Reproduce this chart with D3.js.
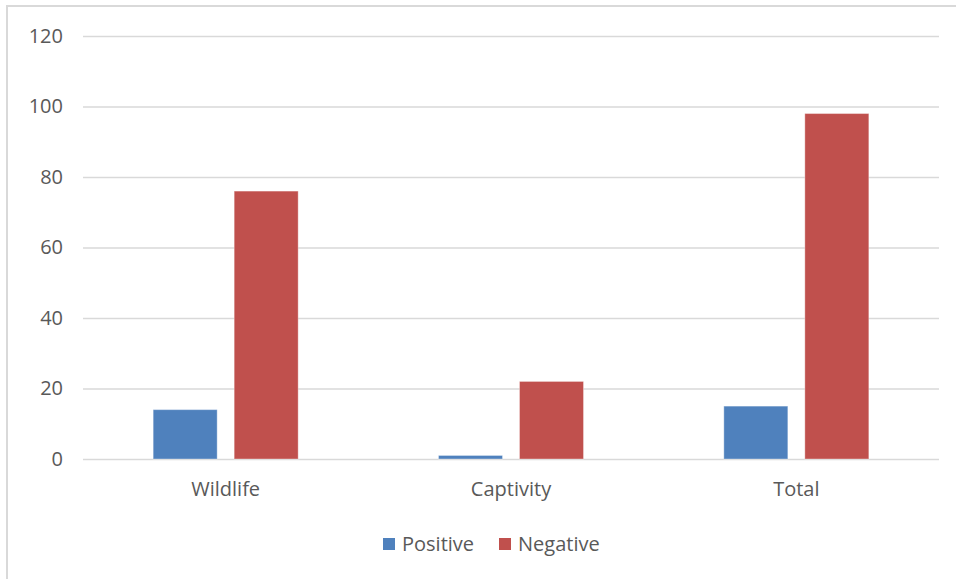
<!DOCTYPE html>
<html>
<head>
<meta charset="utf-8">
<script src="https://cdn.jsdelivr.net/npm/d3@7/dist/d3.min.js"></script>
<style>
  html, body { margin: 0; padding: 0; background: #fff; }
  svg { display: block; }
  text { font-family: "Open Sans", "Liberation Sans", sans-serif; fill: #595959; }
</style>
</head>
<body>
<svg id="chart" width="956" height="579"></svg>
<script>
// Counts by setting and result
const categories = ["Wildlife", "Captivity", "Total"];
const seriesNames = ["Positive", "Negative"];
const positive = [14, 1, 15];
const negative = [76, 22, 98];
const yTicks = [0, 20, 40, 60, 80, 100, 120];
const colors = ["#4f81bd", "#c0504d"];

const series = [positive, negative];

const svg = d3.select("#chart");
const W = 956, H = 579;
const plot = { left: 83, right: 939, top: 36, bottom: 459 };
const fontSize = "20px";

// Chart area frame
svg.append("rect")
  .attr("x", 7).attr("y", 6)
  .attr("width", W + 10).attr("height", H + 10)
  .attr("fill", "#fff")
  .attr("stroke", "#d9d9d9")
  .attr("stroke-width", 2);

const y = d3.scaleLinear().domain([0, 120]).range([plot.bottom, plot.top]);
const x0 = d3.scaleBand().domain(categories).range([plot.left, plot.right]).padding(0);
const groupHalf = 72.5;
const x1 = d3.scaleBand().domain(seriesNames).range([-groupHalf, groupHalf]).paddingInner(0.21).paddingOuter(0);

// Horizontal gridlines with value labels
const yAxis = d3.axisLeft(y)
  .tickValues(yTicks)
  .tickSize(-(plot.right - plot.left))
  .tickPadding(20)
  .tickFormat(d3.format("d"));

const gy = svg.append("g")
  .attr("transform", `translate(${plot.left},0)`)
  .call(yAxis);
gy.select(".domain").remove();
gy.selectAll(".tick line").attr("stroke", "#d9d9d9").attr("stroke-width", 1.6);
gy.selectAll(".tick text")
  .attr("font-size", fontSize)
  .attr("fill", "#595959")
  .attr("font-family", "'Open Sans', 'Liberation Sans', sans-serif");

// Bars
const groups = svg.append("g").selectAll("g")
  .data(categories)
  .join("g")
  .attr("transform", d => `translate(${x0(d) + x0.bandwidth() / 2},0)`);

groups.selectAll("rect")
  .data((d, i) => seriesNames.map((s, k) => ({ s, k, v: series[k][i] })))
  .join("rect")
  .attr("x", d => x1(d.s))
  .attr("width", x1.bandwidth())
  .attr("y", d => y(d.v))
  .attr("height", d => y(0) - y(d.v))
  .attr("fill", d => colors[d.k])
  .attr("stroke", "rgba(255,255,255,0.35)")
  .attr("stroke-width", 1);

// Category labels
const xAxis = d3.axisBottom(x0).tickSize(0).tickPadding(23);
const gx = svg.append("g")
  .attr("transform", `translate(0,${plot.bottom})`)
  .call(xAxis);
gx.select(".domain").remove();
gx.selectAll(".tick text")
  .attr("font-size", fontSize)
  .attr("fill", "#595959")
  .attr("font-family", "'Open Sans', 'Liberation Sans', sans-serif");

// Legend
const legendItems = [
  { name: seriesNames[0], color: colors[0], x: 383 },
  { name: seriesNames[1], color: colors[1], x: 499 }
];
const legend = svg.append("g");
legendItems.forEach(it => {
  legend.append("rect")
    .attr("x", it.x).attr("y", 538)
    .attr("width", 12).attr("height", 12)
    .attr("fill", it.color);
  legend.append("text")
    .attr("x", it.x + 19).attr("y", 544)
    .attr("dy", "0.35em")
    .attr("font-size", fontSize)
    .text(it.name);
});
</script>
</body>
</html>
